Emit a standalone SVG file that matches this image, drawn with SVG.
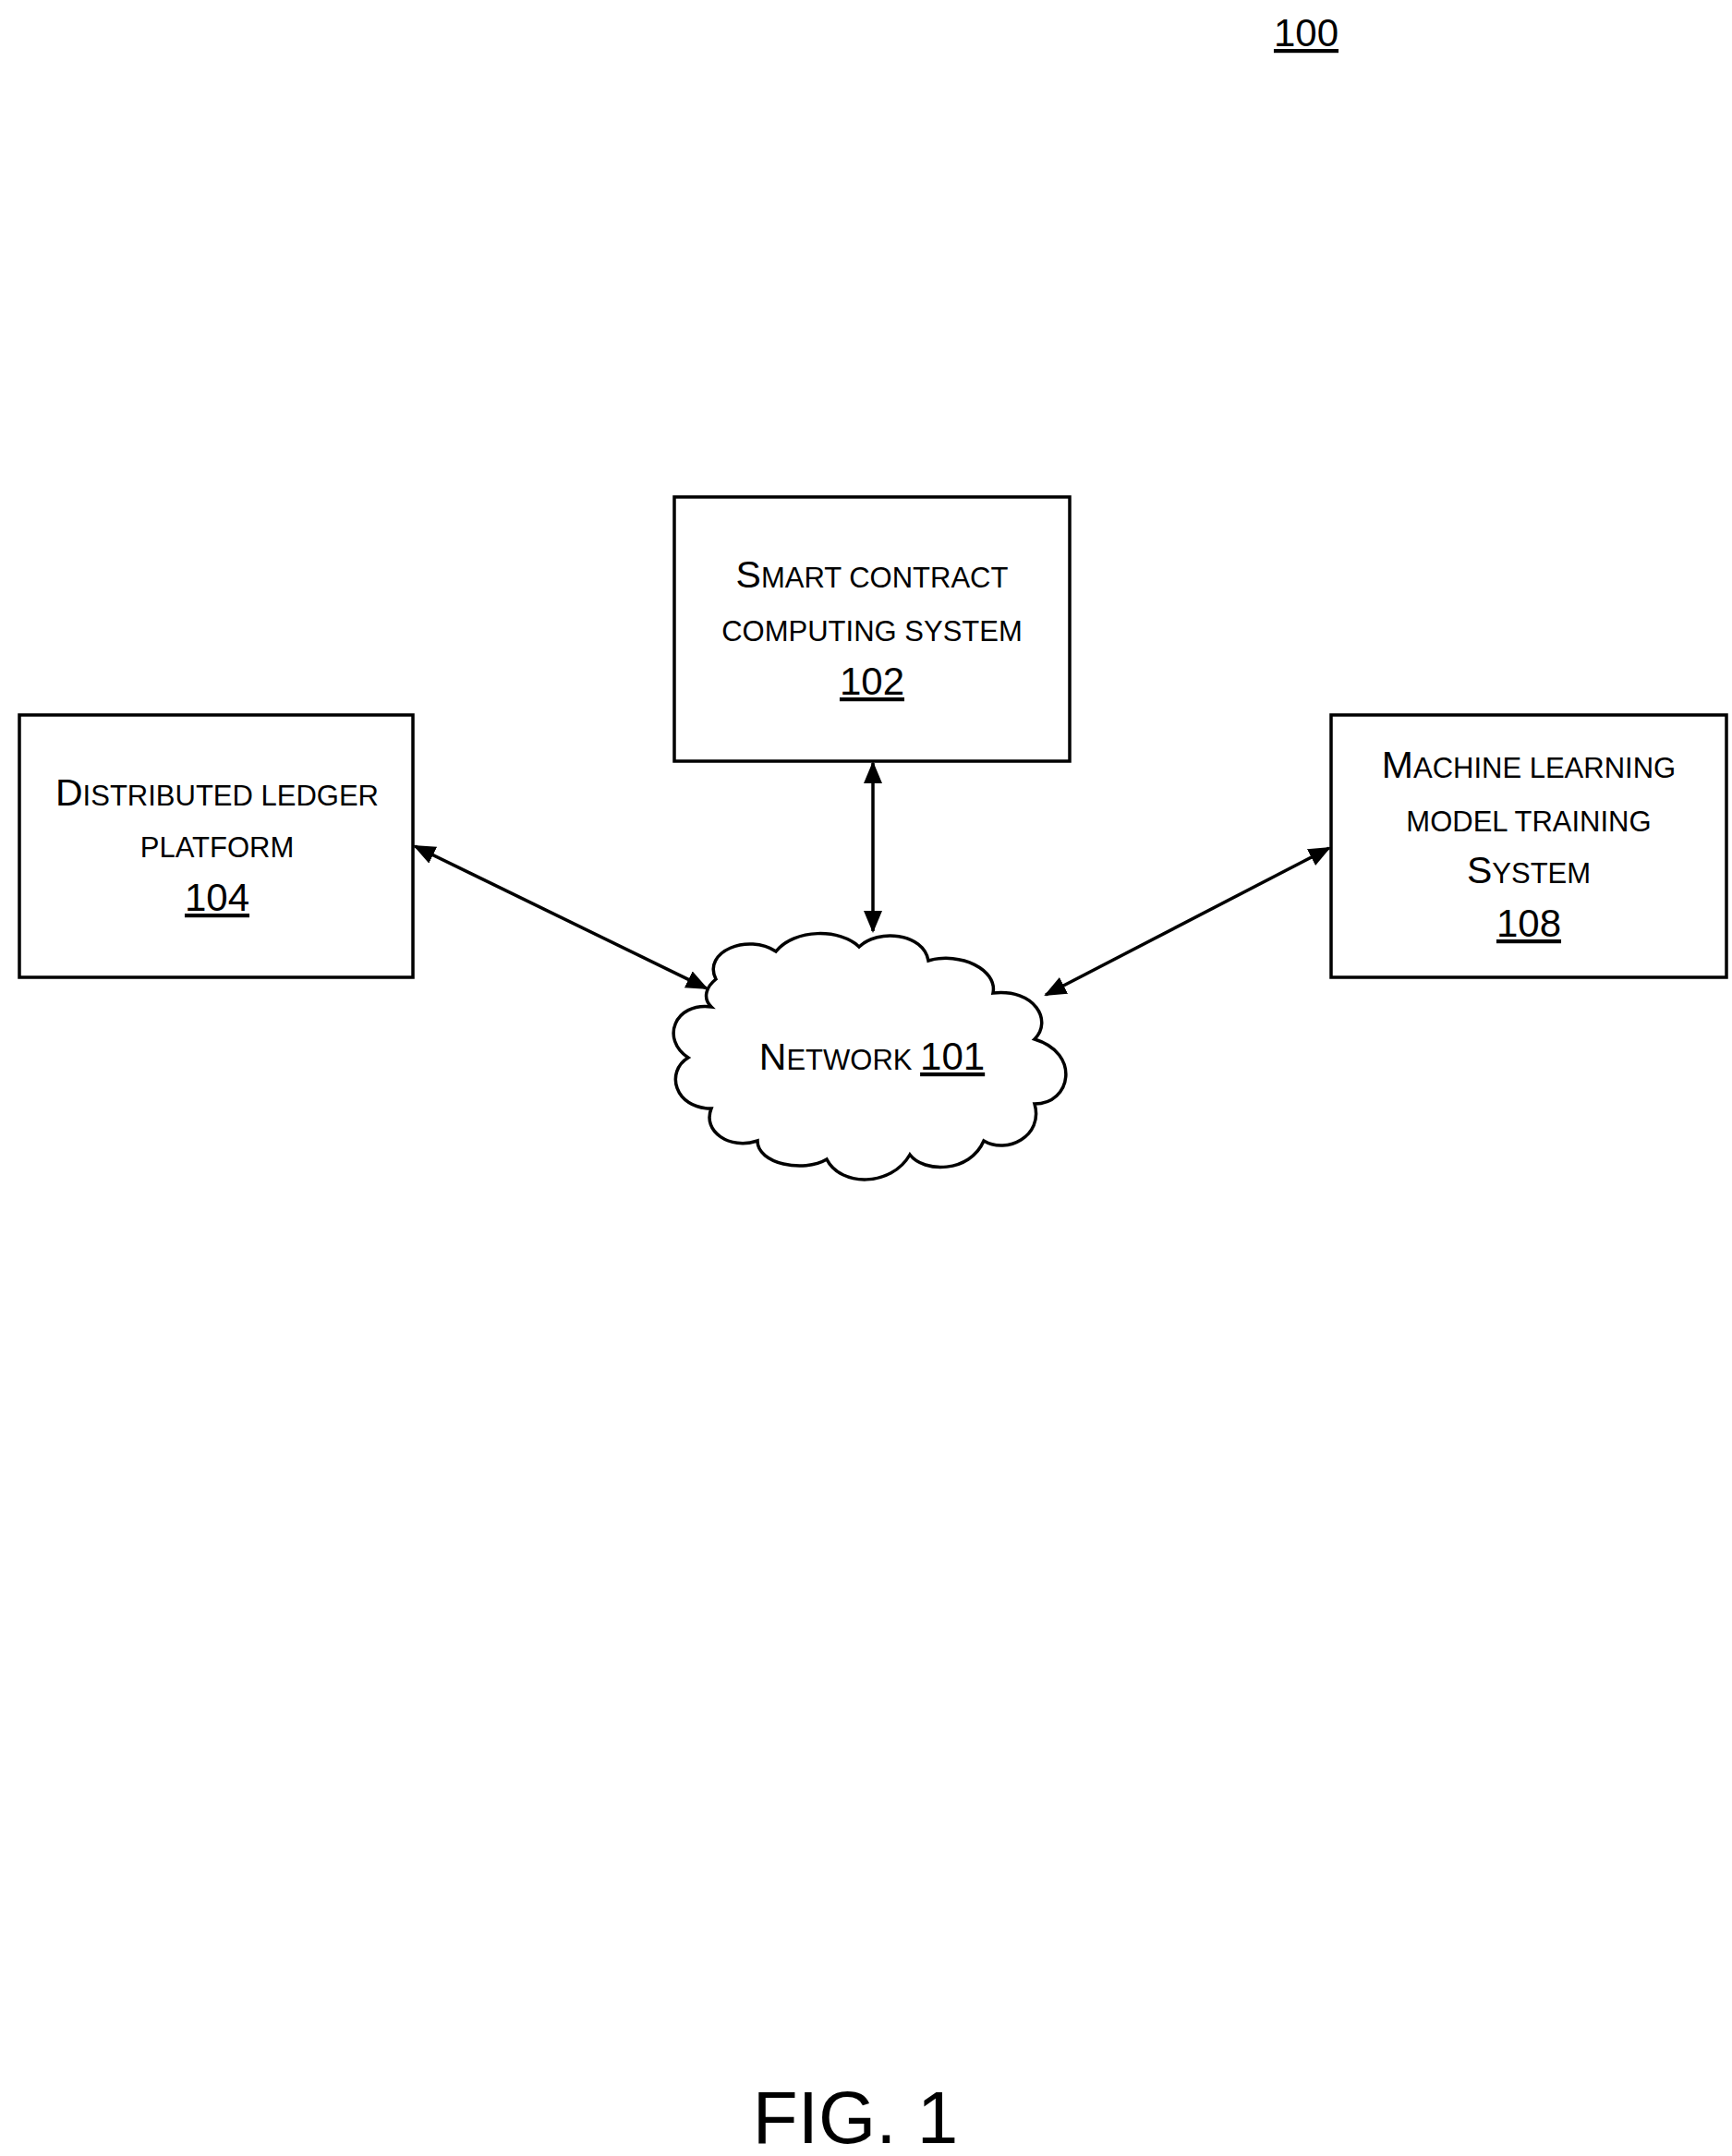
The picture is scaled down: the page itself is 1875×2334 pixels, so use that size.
<svg xmlns="http://www.w3.org/2000/svg" width="1875" height="2334" viewBox="0 0 1875 2334">
<style>
.b{fill:#fff;stroke:#000;stroke-width:3.5}
text{font-family:"Liberation Sans",Arial,sans-serif;text-anchor:middle;fill:#000}
.t{font-size:31px}
.c{font-size:41px}
.n{font-size:42px;text-decoration:underline}
.l{stroke:#000;stroke-width:3.5;fill:none;marker-start:url(#a);marker-end:url(#a)}
</style>
<defs><marker id="a" viewBox="0 0 24 20" refX="22" refY="10" markerWidth="24" markerHeight="20" orient="auto-start-reverse" markerUnits="userSpaceOnUse"><path d="M0,0 L24,10 L0,20 z"/></marker></defs>
<text class="n" x="1414" y="50">100</text>
<g id="n102"><rect class="b" x="730" y="538" width="428" height="286"/>
<text class="t" x="944" y="636"><tspan class="c">S</tspan>MART CONTRACT</text>
<text class="t" x="944" y="694">COMPUTING SYSTEM</text>
<text class="n" x="944" y="752">102</text></g>
<g id="n104"><rect class="b" x="21" y="774" width="426" height="284"/>
<text class="t" x="235" y="872"><tspan class="c">D</tspan>ISTRIBUTED LEDGER</text>
<text class="t" x="235" y="928">PLATFORM</text>
<text class="n" x="235" y="986">104</text></g>
<g id="n108"><rect class="b" x="1441" y="774" width="428" height="284"/>
<text class="t" x="1655" y="842"><tspan class="c">M</tspan>ACHINE LEARNING</text>
<text class="t" x="1655" y="900">MODEL TRAINING</text>
<text class="t" x="1655" y="956"><tspan class="c">S</tspan>YSTEM</text>
<text class="n" x="1655" y="1014">108</text></g>
<g id="n101"><path class="b" d="M775,1060 C760,1030 810,1010 840,1030 C860,1005 910,1005 930,1025 C950,1005 1000,1010 1005,1040 C1040,1030 1080,1050 1075,1075 C1120,1070 1140,1105 1120,1125 C1170,1140 1160,1195 1120,1195 C1130,1230 1090,1250 1065,1235 C1050,1270 1000,1270 985,1250 C965,1285 910,1285 895,1255 C870,1270 820,1260 820,1235 C790,1245 760,1225 770,1200 C730,1200 720,1160 745,1145 C715,1125 730,1085 770,1090 C760,1080 765,1068 775,1060 Z"/>
<text x="944" y="1158" style="font-size:31px"><tspan class="c">N</tspan>ETWORK <tspan style="font-size:42px;text-decoration:underline">101</tspan></text></g>
<g id="connectors">
<line class="l" x1="945" y1="826" x2="945" y2="1008"/>
<line class="l" x1="449" y1="916" x2="765" y2="1070"/>
<line class="l" x1="1439" y1="918" x2="1132" y2="1077"/>
</g>
<text x="926" y="2320" style="font-size:80px">FIG. 1</text>
</svg>
